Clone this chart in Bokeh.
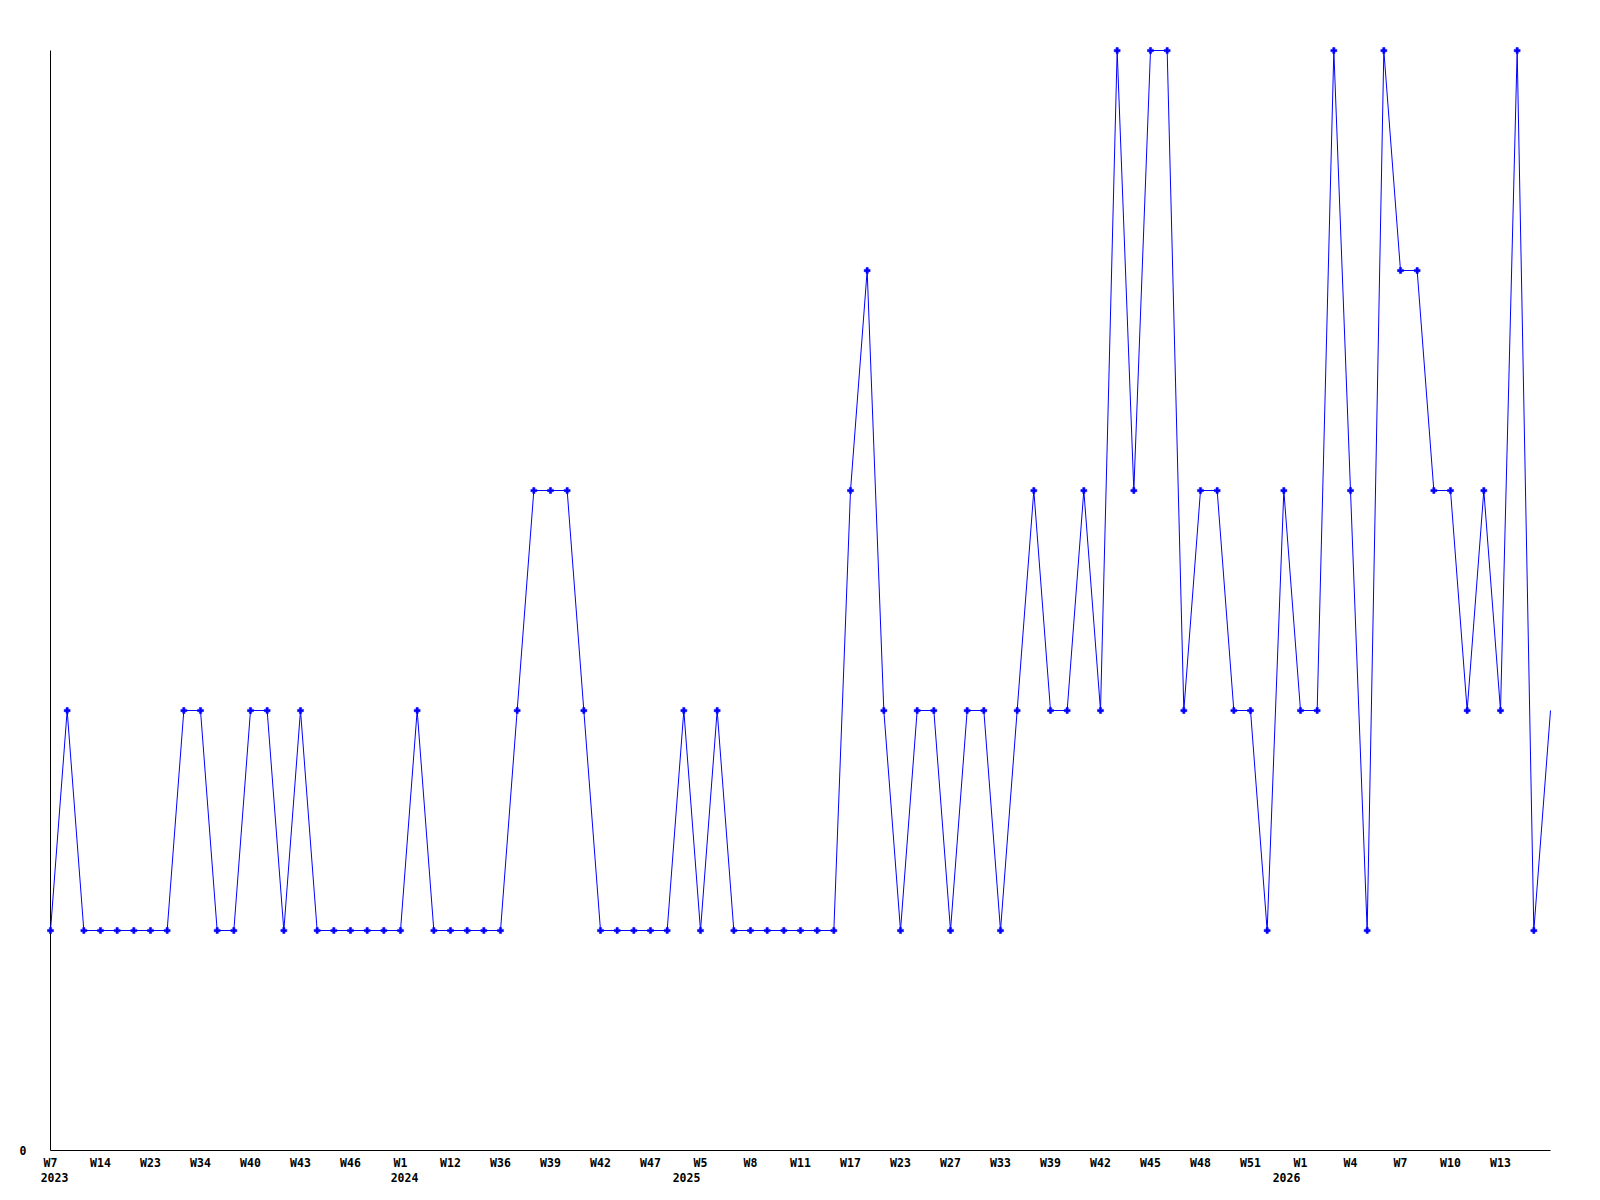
from bokeh.plotting import figure
from bokeh.models import Range1d, FixedTicker, LinearAxis
from bokeh.embed import file_html
from bokeh.resources import INLINE

# ---- data ----
values = [1, 2, 1, 1, 1, 1, 1, 1, 2, 2,
          1, 1, 2, 2, 1, 2, 1, 1, 1, 1,
          1, 1, 2, 1, 1, 1, 1, 1, 2, 3,
          3, 3, 2, 1, 1, 1, 1, 1, 2, 1,
          2, 1, 1, 1, 1, 1, 1, 1, 3, 4,
          2, 1, 2, 2, 1, 2, 2, 1, 2, 3,
          2, 2, 3, 2, 5, 3, 5, 5, 2, 3,
          3, 2, 2, 1, 3, 2, 2, 5, 3, 1,
          5, 4, 4, 3, 3, 2, 3, 2, 5, 1,
          2]
week_labels = ["W7", "W14", "W23", "W34", "W40", "W43", "W46", "W1", "W12", "W36",
               "W39", "W42", "W47", "W5", "W8", "W11", "W17", "W23", "W27", "W33",
               "W39", "W42", "W45", "W48", "W51", "W1", "W4", "W7", "W10", "W13"]
label_every = 3
years = ["2023", "2024", "2025", "2026"]
year_weeks = [0, 21, 39, 75]   # category index where each year label sits

# ---- geometry (pixels) ----
W, H = 1600, 1200
px_x = 1500 / (len(values) - 1)   # px per category step
px_y = 220.0                        # px per unit
left_b, right_b, top_b, bottom_b = 45, 48, 39, 47

x = list(range(len(values)))
n = len(values)
ymax = max(values)

frame_w = W - left_b - right_b
frame_h = H - top_b - bottom_b
x_start = -5 / px_x
y_start = -3 / px_y

p = figure(width=W, height=H, output_backend="svg", toolbar_location=None,
           x_range=Range1d(x_start, x_start + frame_w / px_x),
           y_range=Range1d(y_start, y_start + frame_h / px_y),
           min_border_left=left_b, min_border_right=right_b,
           min_border_top=top_b, min_border_bottom=bottom_b,
           background_fill_color="white", border_fill_color="white")
p.outline_line_color = None
p.grid.visible = False

font = "DejaVu Sans Mono"


def style_axis(ax, standoff):
    ax.axis_line_color = None
    ax.major_tick_line_color = None
    ax.minor_tick_line_color = None
    ax.major_tick_out = 0
    ax.major_tick_in = 0
    ax.major_label_standoff = standoff
    ax.major_label_text_font = font
    ax.major_label_text_font_style = "bold"
    ax.major_label_text_font_size = "11.5px"
    ax.major_label_text_color = "black"


# x axis (week labels)
ticks = list(range(0, label_every * len(week_labels), label_every))
p.xaxis.ticker = FixedTicker(ticks=ticks)
p.xaxis.major_label_overrides = {t: lab for t, lab in zip(ticks, week_labels)}
style_axis(p.xaxis[0], 2)

# second x axis row (year labels), nudged in pixels
year_nudge_px = [4, 4, -14, -14]
year_ticks = [w + d / px_x for w, d in zip(year_weeks, year_nudge_px)]
yax = LinearAxis(ticker=FixedTicker(ticks=year_ticks))
yax.major_label_overrides = {t: yr for t, yr in zip(year_ticks, years)}
style_axis(yax, 0)
p.add_layout(yax, "below")

# y axis
p.yaxis.ticker = FixedTicker(ticks=[0])
style_axis(p.yaxis[0], 19)

# axis lines
p.segment(x0=[0, 0], y0=[0, 0], x1=[0, n - 1], y1=[ymax, 0],
          line_color="black", line_width=1)

# data line + markers
p.line(x, values, line_color="#0000ff", line_width=1)
p.scatter(x[:-1], values[:-1], marker="plus", size=6,
          fill_color="#0000ff", line_color="#0000ff", line_width=0.5)

open("out.html", "w").write(file_html(p, INLINE))
